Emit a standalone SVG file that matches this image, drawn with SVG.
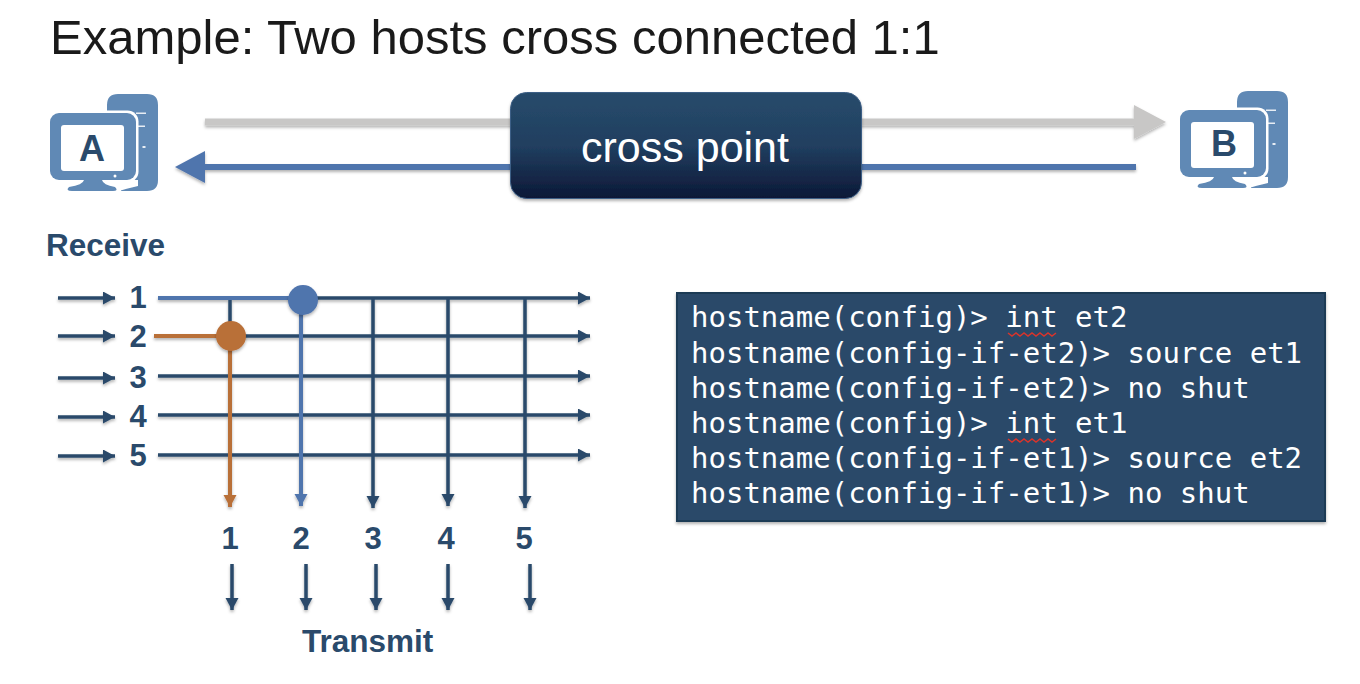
<svg xmlns="http://www.w3.org/2000/svg" xmlns:xlink="http://www.w3.org/1999/xlink" width="1360" height="684" viewBox="0 0 1360 684">
<style>
.t{font-family:"Liberation Sans",Arial,sans-serif}
.n{font-family:"Liberation Sans",Arial,sans-serif;font-weight:700;font-size:31px;fill:#2a4a6b;text-anchor:middle}
.h{font-family:"Liberation Sans",Arial,sans-serif;font-weight:700;font-size:31.500px;fill:#2a4a6b}
.m{font-family:"DejaVu Sans Mono",monospace;font-size:29px;fill:#fff}
.l{fill:none;stroke:#2a4a6b;stroke-width:3.5}
.bl{fill:none;stroke:#5074ad;stroke-width:4}
.or{fill:none;stroke:#b96f38;stroke-width:4}
.sq{fill:none;stroke:#d9342b;stroke-width:1.5}
.ic{fill:#6089b5}
</style>
<defs>
<linearGradient id="g" x1="0" y1="0" x2="0" y2="1"><stop offset="0" stop-color="#274b6b"/><stop offset=".5" stop-color="#213f60"/><stop offset="1" stop-color="#0c1837"/></linearGradient>
<filter id="s" x="-20%" y="-20%" width="140%" height="150%"><feDropShadow dx="0" dy="2" stdDeviation="1.5" flood-color="#000" flood-opacity=".3"/></filter>
<filter id="sl" filterUnits="userSpaceOnUse" x="0" y="0" width="1360" height="684"><feDropShadow dx="0" dy="2" stdDeviation="1.5" flood-color="#000" flood-opacity=".3"/></filter>
<marker id="ad" markerUnits="userSpaceOnUse" markerWidth="14" markerHeight="14" refX="12" refY="6.500" orient="auto"><path d="M0 0L12 6.500L0 13z" fill="#2a4a6b"/></marker>
<marker id="ab" markerUnits="userSpaceOnUse" markerWidth="14" markerHeight="14" refX="12" refY="6.500" orient="auto"><path d="M0 0L12 6.500L0 13z" fill="#5074ad"/></marker>
<marker id="ao" markerUnits="userSpaceOnUse" markerWidth="14" markerHeight="14" refX="12" refY="6.500" orient="auto"><path d="M0 0L12 6.500L0 13z" fill="#b96f38"/></marker>
<g id="pc">
<path class="ic" d="M118 94H147Q158 94 158 105V180Q158 191 147 191H121V112H107V105Q107 94 118 94Z"/>
<path fill="#fff" d="M136 112.500h10v1.500h-10zM136 125.500h9v1.500h-9zM142.500 146h3v2h-3z" opacity=".85"/>
<rect fill="#fff" x="48" y="110.500" width="90.500" height="72" rx="11"/>
<rect class="ic" x="50" y="113" width="86" height="67" rx="9"/>
<rect fill="#fff" x="61" y="125" width="63" height="46" rx="3"/>
<circle cx="115" cy="176" r="1.500" fill="#fff"/>
<path fill="#fff" d="M119 180H138V186Q125 189 119 191Z"/>
<path class="ic" d="M84 180H102Q103 185 115 187Q119 191 113 191H72Q65 191 69 187Q83 185 84 180Z"/>
</g>
</defs>
<text id="title" class="t" x="50" y="54" font-size="49" fill="#1a1a1a">Example: Two hosts cross connected 1:1</text>
<g id="connectors">
<g filter="url(#sl)">
<path d="M205 122H1138" fill="none" stroke="#c8c7c6" stroke-width="7"/>
<path d="M1134 105L1166 122L1134 139z" fill="#c8c7c6"/>
<path d="M1136 167H205" fill="none" stroke="#5074ad" stroke-width="6"/>
<path d="M205 151L175 167L205 183z" fill="#5074ad"/>
</g>
<g filter="url(#sl)">
<path class="l" d="M58 298H115" marker-end="url(#ad)"/>
<path class="l" d="M58 336H115" marker-end="url(#ad)"/>
<path class="l" d="M58 378H115" marker-end="url(#ad)"/>
<path class="l" d="M58 417H115" marker-end="url(#ad)"/>
<path class="l" d="M58 456H115" marker-end="url(#ad)"/>
<path class="l" d="M301 298H590" marker-end="url(#ad)"/>
<path class="l" d="M231 336H590" marker-end="url(#ad)"/>
<path class="l" d="M158 376H590" marker-end="url(#ad)"/>
<path class="l" d="M158 415H590" marker-end="url(#ad)"/>
<path class="l" d="M158 455H590" marker-end="url(#ad)"/>
<path class="l" d="M230 298V336"/>
<path class="l" d="M373 298V508" marker-end="url(#ad)"/>
<path class="l" d="M448 298V506" marker-end="url(#ad)"/>
<path class="l" d="M525 298V508" marker-end="url(#ad)"/>
<path class="bl" d="M158 298H301"/>
<path class="or" d="M154 336H231"/>
<path class="or" d="M230 336V507" marker-end="url(#ao)"/>
<path class="bl" d="M301 298V506" marker-end="url(#ab)"/>
<path class="l" d="M232 564V610" marker-end="url(#ad)"/>
<path class="l" d="M306 564V610" marker-end="url(#ad)"/>
<path class="l" d="M376 564V610" marker-end="url(#ad)"/>
<path class="l" d="M448 564V610" marker-end="url(#ad)"/>
<path class="l" d="M530 564V610" marker-end="url(#ad)"/>
</g>
</g>
<g id="node-crosspoint">
<rect x="510.500" y="92.500" width="351" height="106" rx="16" fill="url(#g)" stroke="#3d5f86" stroke-width="1" filter="url(#s)"/>
<text class="t" x="685" y="162" font-size="43" fill="#fff" text-anchor="middle">cross point</text>
</g>
<g id="node-a">
<use xlink:href="#pc" href="#pc"/>
<text x="92" y="161" font-family="Liberation Sans,Arial,sans-serif" font-weight="700" font-size="36" fill="#2a4a6b" text-anchor="middle">A</text>
</g>
<g id="node-b">
<use xlink:href="#pc" href="#pc" x="1130" y="-3"/>
<text x="1224" y="156" font-family="Liberation Sans,Arial,sans-serif" font-weight="700" font-size="36" fill="#2a4a6b" text-anchor="middle">B</text>
</g>
<g id="node-xp-orange"><circle cx="231" cy="336" r="15" fill="#b96f38" filter="url(#s)"/></g>
<g id="node-xp-blue"><circle cx="303" cy="300" r="15" fill="#5074ad" filter="url(#s)"/></g>
<g id="labels-receive">
<text class="h" x="46" y="256">Receive</text>
<text class="n" x="138" y="308">1</text>
<text class="n" x="138" y="347">2</text>
<text class="n" x="138" y="388">3</text>
<text class="n" x="138" y="427">4</text>
<text class="n" x="138" y="466">5</text>
</g>
<g id="labels-transmit">
<text class="n" x="230" y="549">1</text>
<text class="n" x="301" y="549">2</text>
<text class="n" x="373" y="549">3</text>
<text class="n" x="446" y="549">4</text>
<text class="n" x="524" y="549">5</text>
<text class="h" x="302" y="652">Transmit</text>
</g>
<g id="node-terminal">
<rect x="677" y="293" width="648" height="228" fill="#2c4a69" stroke="#1e3a55" stroke-width="2" filter="url(#s)"/>
<text class="m" x="691" y="327">hostname(config)&gt; int et2</text>
<text class="m" x="691" y="363">hostname(config-if-et2)&gt; source et1</text>
<text class="m" x="691" y="398">hostname(config-if-et2)&gt; no shut</text>
<text class="m" x="691" y="433">hostname(config)&gt; int et1</text>
<text class="m" x="691" y="468">hostname(config-if-et1)&gt; source et2</text>
<text class="m" x="691" y="503">hostname(config-if-et1)&gt; no shut</text>
<path class="sq" d="M1008 333l4 3 4-3 4 3 4-3 4 3 4-3 4 3 4-3 4 3 4-3 4 3 4-3"/>
<path class="sq" d="M1008 439l4 3 4-3 4 3 4-3 4 3 4-3 4 3 4-3 4 3 4-3 4 3 4-3"/>
</g>
</svg>
